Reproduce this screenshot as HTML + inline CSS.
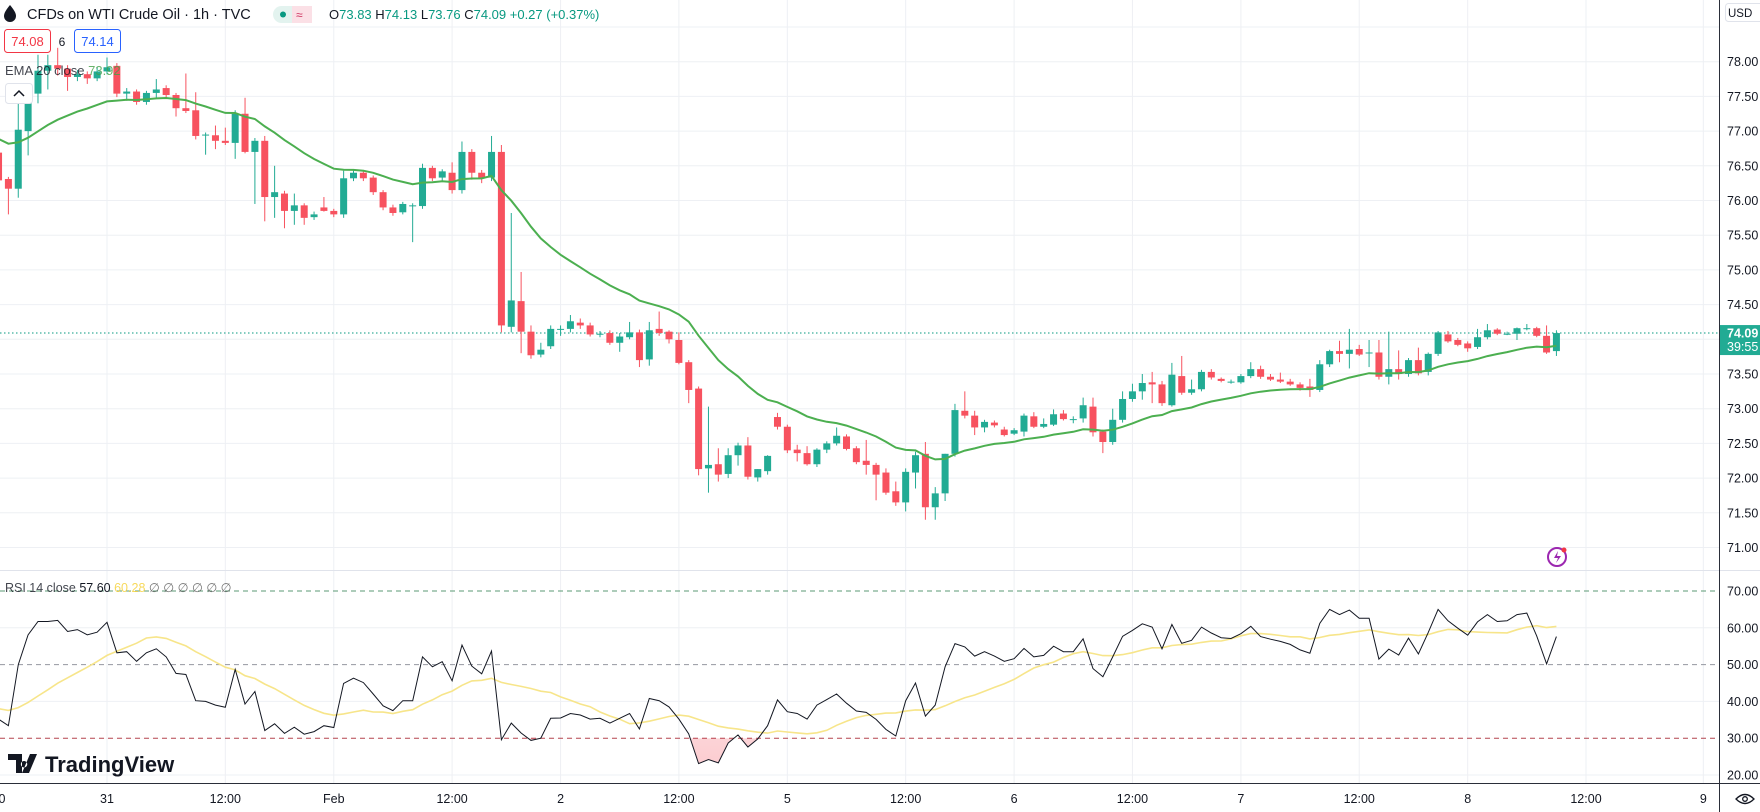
<!DOCTYPE html>
<html><head><meta charset="utf-8"><style>
html,body{margin:0;padding:0;background:#fff;width:1760px;height:812px;overflow:hidden}
svg{display:block;font-family:"Liberation Sans",sans-serif}
</style></head><body>
<svg id="chart" width="1760" height="812" viewBox="0 0 1760 812" xmlns="http://www.w3.org/2000/svg">
<g id="grid"></g>
<g id="rsiLevels"></g>
<g id="candles"></g>
<g id="rsi"></g>
<g id="axes"></g>
<!-- header -->
<g>
  <path d="M10 5 C6 10 4 13 4 16 a6 6 0 0 0 12 0 C16 13 14 10 10 5Z" fill="#131722"/>
  <text x="27" y="19" font-size="14.5" fill="#131722">CFDs on WTI Crude Oil · 1h · TVC</text>
  <rect x="273" y="6" width="39" height="17" rx="8.5" fill="#e3f3ef"/>
  <rect x="292" y="6" width="20" height="17" rx="0" fill="#fbe0e6"/>
  <circle cx="283" cy="14.5" r="3" fill="#089981"/>
  <text x="296" y="19" font-size="12" fill="#cc2f5c">≈</text>
  <text x="329" y="19" font-size="13" fill="#089981"><tspan fill="#131722">O</tspan>73.83 <tspan fill="#131722">H</tspan>74.13 <tspan fill="#131722">L</tspan>73.76 <tspan fill="#131722">C</tspan>74.09 +0.27 (+0.37%)</text>
  <rect x="4.5" y="29.5" width="46" height="23" rx="3" fill="#fff" stroke="#f23645"/>
  <text x="27.5" y="46" font-size="13" fill="#f23645" text-anchor="middle">74.08</text>
  <text x="62" y="46" font-size="12" fill="#131722" text-anchor="middle">6</text>
  <rect x="74.5" y="29.5" width="46" height="23" rx="3" fill="#fff" stroke="#2962ff"/>
  <text x="97.5" y="46" font-size="13" fill="#2962ff" text-anchor="middle">74.14</text>
  <text x="5" y="75" font-size="13" fill="#131722" fill-opacity="0.8">EMA 20 close <tspan fill="#43a047">73.92</tspan></text>
  <rect x="5.5" y="83.5" width="27" height="20" rx="3" fill="#fff" stroke="#e0e3eb"/>
  <path d="M14 96 L19 91 L24 96" fill="none" stroke="#131722" stroke-width="1.5"/>
  <text x="5" y="592" font-size="12.5" fill="#131722" fill-opacity="0.8">RSI 14 close <tspan fill="#131722" fill-opacity="1">57.60</tspan> <tspan fill="#f5d033">60.28</tspan> <tspan fill="#555">∅ ∅ ∅ ∅ ∅ ∅</tspan></text>
  <g>
    <path d="M8 754 h14 v19 h-6 v-13 h-8z M24 761 a3.2 3.2 0 1 0 0.1 0z M30 754 h7 l-8 19 h-7z" fill="#131722"/>
    <text x="45" y="772" font-size="22" font-weight="bold" fill="#131722">TradingView</text>
  </g>
  <rect x="1725.5" y="3.5" width="40" height="18" rx="3" fill="#fff" stroke="#e0e3eb"/>
  <text x="1728" y="17" font-size="11.5" fill="#131722">USD</text>
  <g>
    <circle cx="1557" cy="557" r="9" fill="none" stroke="#9c27b0" stroke-width="2"/>
    <path d="M1558 551 l-4 7 h4 l-2 5 l5 -7 h-4z" fill="#9c27b0"/>
    <circle cx="1564" cy="550" r="2.5" fill="#f23645"/>
  </g>
  <g>
    <path d="M1736 799 q9 -9 18 0 q-9 9 -18 0z" fill="none" stroke="#131722" stroke-width="1.3"/>
    <circle cx="1745" cy="799" r="2.3" fill="none" stroke="#131722" stroke-width="1.3"/>
  </g>
</g>
</svg>
<script>
const firstIndex = -11;
const opens = [76.69,76.31,76.17,77.00,77.54,77.87,77.95,77.90,77.78,77.82,77.76,
77.86,77.94,77.54,77.57,77.42,77.55,77.62,77.52,77.33,77.30,
76.94,76.94,76.86,76.83,77.25,76.70,76.86,76.05,76.10,75.85,
75.93,75.76,75.90,75.85,75.80,76.32,76.40,76.33,76.12,75.90,
75.83,75.92,75.92,76.47,76.33,76.40,76.15,76.70,76.40,76.33,
76.70,74.18,74.55,74.11,73.78,73.90,74.15,74.15,74.24,74.20,
74.08,74.09,73.95,74.03,74.10,73.71,74.15,74.11,73.99,73.67,
73.29,72.14,72.20,72.06,72.33,72.47,72.01,72.10,72.88,72.74,
72.41,72.36,72.20,72.41,72.50,72.60,72.43,72.25,72.19,72.08,
71.81,71.65,72.08,72.35,71.58,71.78,72.35,72.97,72.90,72.73,
72.80,72.70,72.64,72.67,72.89,72.74,72.77,72.93,72.85,72.86,
73.03,72.67,72.52,72.84,73.14,73.25,73.38,73.35,73.05,73.47,
73.23,73.28,73.53,73.43,73.39,73.38,73.47,73.57,73.46,73.42,
73.39,73.35,73.32,73.27,73.64,73.83,73.79,73.86,73.81,73.81,
73.46,73.57,73.50,73.70,73.53,73.79,74.07,73.99,73.94,73.89,
74.03,74.14,74.08,74.08,74.16,74.16,74.05,73.83];
const highs = [76.80,76.34,77.40,77.62,78.10,78.10,78.20,77.95,77.88,77.86,77.92,
78.06,77.98,77.62,77.60,77.58,77.75,77.66,77.55,77.83,77.56,
76.98,77.08,77.05,77.30,77.48,76.90,76.93,76.50,76.14,76.10,
75.96,75.84,76.05,75.88,76.43,76.44,76.44,76.36,76.15,75.94,
75.98,75.96,76.53,76.50,76.45,76.55,76.85,76.74,76.44,76.93,
76.80,75.82,74.97,74.20,73.95,74.20,74.20,74.35,74.30,74.24,
74.12,74.13,74.09,74.25,74.14,74.25,74.40,74.13,74.10,73.70,
73.32,73.03,72.43,72.43,72.51,72.59,72.13,72.33,72.94,72.77,
72.48,72.46,72.43,72.53,72.73,72.63,72.46,72.55,72.22,72.14,
71.95,72.14,72.38,72.52,71.87,72.35,73.07,73.25,72.97,72.84,
72.83,72.74,72.72,72.93,72.95,72.86,72.99,72.98,72.89,73.16,
73.16,72.70,73.00,73.25,73.36,73.50,73.53,73.40,73.66,73.76,
73.42,73.56,73.57,73.45,73.42,73.50,73.67,73.62,73.50,73.52,
73.43,73.38,73.43,73.70,73.85,73.98,74.15,73.92,73.99,73.99,
74.11,73.84,73.73,73.88,73.81,74.12,74.12,74.02,73.97,74.15,
74.22,74.16,74.11,74.17,74.22,74.18,74.20,74.13];
const lows = [76.25,75.80,76.04,76.65,77.40,77.60,77.80,77.58,77.72,77.68,77.72,
77.82,77.49,77.45,77.38,77.38,77.47,77.48,77.21,77.26,76.88,
76.66,76.74,76.80,76.60,76.68,75.95,75.70,75.75,75.60,75.65,
75.65,75.72,75.84,75.76,75.75,76.28,76.28,76.08,75.86,75.78,
75.80,75.40,75.88,76.28,76.28,76.10,76.10,76.30,76.25,76.28,
74.10,74.10,73.80,73.72,73.74,73.86,74.05,74.10,74.15,74.04,
74.03,73.92,73.82,74.00,73.60,73.62,74.05,73.94,73.64,73.08,
72.04,71.79,71.95,72.00,72.18,71.98,71.95,72.05,72.70,72.36,
72.24,72.18,72.16,72.36,72.47,72.40,72.20,72.05,71.68,71.76,
71.60,71.52,71.85,71.40,71.40,71.67,72.31,72.86,72.62,72.66,
72.73,72.60,72.62,72.60,72.72,72.72,72.75,72.83,72.79,72.80,
72.60,72.36,72.48,72.80,73.10,73.13,73.08,73.04,73.03,73.20,
73.20,73.25,73.42,73.38,73.36,73.36,73.44,73.43,73.40,73.37,
73.33,73.26,73.17,73.24,73.60,73.67,73.58,73.76,73.60,73.42,
73.35,73.42,73.46,73.48,73.48,73.76,73.95,73.90,73.82,73.86,
74.00,74.06,74.06,73.99,74.13,74.03,73.79,73.76];
const closes = [76.29,76.17,77.02,77.54,77.87,77.95,77.90,77.78,77.82,77.76,77.86,
77.92,77.54,77.57,77.42,77.55,77.60,77.52,77.33,77.29,76.93,
76.95,76.86,76.83,77.25,76.70,76.86,76.05,76.12,75.85,75.93,
75.75,75.80,75.85,75.80,76.32,76.40,76.32,76.12,75.90,75.82,
75.95,75.93,76.47,76.32,76.42,76.15,76.70,76.40,76.33,76.70,
74.20,74.56,74.11,73.77,73.85,74.15,74.15,74.26,74.20,74.07,
74.08,73.95,74.04,74.10,73.70,74.13,74.09,74.00,73.66,73.27,
72.13,72.19,72.05,72.33,72.47,72.02,72.13,72.32,72.74,72.40,
72.36,72.20,72.41,72.50,72.61,72.42,72.23,72.19,72.05,71.79,
71.65,72.09,72.33,71.58,71.78,72.35,72.98,72.90,72.73,72.81,
72.76,72.62,72.69,72.90,72.74,72.78,72.92,72.85,72.85,73.05,
72.66,72.52,72.84,73.14,73.25,73.37,73.35,73.08,73.49,73.23,
73.28,73.53,73.45,73.40,73.39,73.47,73.57,73.46,73.42,73.39,
73.35,73.30,73.27,73.64,73.83,73.79,73.85,73.78,73.81,73.46,
73.57,73.50,73.70,73.51,73.79,74.10,73.97,73.92,73.87,74.03,
74.13,74.08,74.08,74.16,74.16,74.05,73.81,74.09];
const rsiWarmup = [40.0,39.0,38.5,37.5,38.0,37.0,38.5,39.0,38.0,37.5,38.0,37.5,38.5];
const rsiValues = [35.2,33.4,50.0,58.1,61.7,61.7,62.0,59.0,59.5,58.1,
58.8,61.5,53.2,53.5,50.9,53.2,54.3,52.1,47.6,47.3,
40.2,40.0,39.0,38.4,48.7,39.3,42.7,32.1,33.9,31.3,
33.0,31.1,31.8,33.4,32.9,44.9,46.3,45.1,42.0,38.8,
37.5,40.2,40.2,52.1,49.4,50.8,45.6,55.3,49.6,47.5,
53.7,29.6,34.1,31.4,29.4,30.0,35.4,35.5,36.7,36.3,
35.2,35.4,34.1,35.4,36.7,32.5,40.8,40.2,38.5,35.2,
31.2,23.1,24.2,23.3,28.7,30.9,27.6,29.8,33.4,40.4,
37.2,36.7,
35.2,39.0,40.5,42.0,39.5,37.4,37.0,35.1,32.4,30.6,
40.2,45.0,36.0,39.0,49.4,55.7,54.8,52.3,53.5,52.3,
50.9,51.6,54.4,52.1,52.5,55.0,53.5,53.5,57.0,48.9,
46.7,52.1,57.7,59.3,61.1,60.2,54.3,60.9,55.8,56.6,
60.2,58.6,57.3,57.1,58.4,60.4,57.6,56.9,56.3,55.5,
54.0,53.1,61.2,65.0,63.6,64.8,62.6,62.6,51.5,54.2,
52.6,57.2,52.9,58.7,65.0,61.9,59.9,58.0,61.6,63.6,
61.7,61.9,63.6,64.0,57.8,50.2,57.6];
const emaSeed = 76.95;
const priceTicks = [71,71.5,72,72.5,73,73.5,74,74.5,75,75.5,76,76.5,77,77.5,78,78.5];
const rsiTicks = [20,30,40,50,60,70];
const timeLabels = ['00','31','12:00','Feb','12:00','2','12:00','5','12:00','6','12:00','7','12:00','8','12:00','9'];
const timeIndex = [-11,0,12,23,35,46,58,69,81,92,104,115,127,138,150,161.9];
const lastPrice = 74.09;

const NS = 'http://www.w3.org/2000/svg';
const PLOT_R = 1719;
const xAt = i => 107 + i * 9.86;
const yP = p => 61.7 + (78 - p) * 69.4;
const yR = r => 591 + (70 - r) * 3.68;
function mk(tag, attrs, parent) {
  const e = document.createElementNS(NS, tag);
  for (const k in attrs) e.setAttribute(k, attrs[k]);
  parent.appendChild(e);
  return e;
}
const grid = document.getElementById('grid');
const axes = document.getElementById('axes');
const cg = document.getElementById('candles');
const rg = document.getElementById('rsi');
const lv = document.getElementById('rsiLevels');

priceTicks.forEach(p => {
  const l = mk('line', {x1:0, x2:PLOT_R, y1:yP(p), y2:yP(p), stroke:'#eef0f4', 'stroke-width':1}, grid);
  
  
  if (p <= 78) {
    const t = mk('text', {x:1727, y:yP(p)+4.5, 'font-size':12.5, fill:'#131722'}, axes);
    t.textContent = p.toFixed(2);
    
    
  }
});
rsiTicks.forEach(r => {
  if (r === 20 || r === 40 || r === 60) {
    const l = mk('line', {x1:0, x2:PLOT_R, y1:yR(r), y2:yR(r), stroke:'#eef0f4'}, grid);
    
    
  }
  const t = mk('text', {x:1727, y:yR(r)+4.5, 'font-size':12.5, fill:'#131722'}, axes);
  t.textContent = r.toFixed(2);
  
  
});
timeLabels.forEach((lab, k) => {
  const x = xAt(timeIndex[k]);
  const l = mk('line', {x1:x, x2:x, y1:0, y2:783, stroke:'#eef0f4'}, grid);
  
  
  const t = mk('text', {x:x, y:803, 'font-size':12.5, fill:'#131722', 'text-anchor':'middle'}, axes);
  t.textContent = lab;
  
  
});
[[70,'#5b9a74'],[50,'#9598a1'],[30,'#b2444f']].forEach(([v,c]) => {
  const l = mk('line', {x1:0, x2:PLOT_R, y1:yR(v), y2:yR(v), stroke:c, 'stroke-dasharray':'5 4'}, lv);
  
  
});
const sep = mk('line', {x1:0, x2:1760, y1:570.5, y2:570.5, stroke:'#e0e3eb'}, axes);


const pax = mk('line', {x1:PLOT_R+0.5, x2:PLOT_R+0.5, y1:0, y2:812, stroke:'#2a2e39'}, axes);


const tax = mk('line', {x1:0, x2:1760, y1:783.5, y2:783.5, stroke:'#2a2e39'}, axes);



const lp = mk('line', {x1:0, x2:PLOT_R, y1:yP(lastPrice), y2:yP(lastPrice), stroke:'#089981', 'stroke-dasharray':'1.5 2.5'}, cg);



opens.forEach((o, k) => {
  const i = firstIndex + k;
  const c = closes[k], h = highs[k], l = lows[k];
  const x = xAt(i);
  const col = c >= o ? '#22ab94' : '#f7525f';
  const g = mk('g', {}, cg);
  
  
  mk('line', {x1:x, x2:x, y1:yP(h), y2:yP(l), stroke:col, 'stroke-width':1}, g);
  const top = yP(Math.max(o, c)), bot = yP(Math.min(o, c));
  mk('rect', {x:x-3.5, y:top, width:7, height:Math.max(1, bot-top), fill:col}, g);
});
let ema = emaSeed;
const emaPts = closes.map((c, k) => {
  ema = ema + (2/21) * (c - ema);
  return xAt(firstIndex + k).toFixed(1) + ',' + yP(ema).toFixed(1);
});
const emaLine = mk('polyline', {points:emaPts.join(' '), fill:'none', stroke:'#4caf50', 'stroke-width':2}, cg);



const rsiPts = rsiValues.map((r, k) => [xAt(firstIndex + k), yR(r)]);
const defs = mk('defs', {}, rg);
const cp = mk('clipPath', {id:'below30'}, defs);
mk('rect', {x:0, y:yR(30), width:PLOT_R, height:783-yR(30)}, cp);
const grad = mk('linearGradient', {id:'osg', x1:0, y1:0, x2:0, y2:1}, defs);
mk('stop', {offset:'0', 'stop-color':'#f23645', 'stop-opacity':'0.05'}, grad);
mk('stop', {offset:'1', 'stop-color':'#f23645', 'stop-opacity':'0.25'}, grad);
const fillPts = rsiPts.map(p => p[0].toFixed(1)+','+p[1].toFixed(1));
fillPts.push(rsiPts[rsiPts.length-1][0].toFixed(1)+','+yR(30));
fillPts.unshift(rsiPts[0][0].toFixed(1)+','+yR(30));
const os = mk('polygon', {points:fillPts.join(' '), fill:'url(#osg)', 'clip-path':'url(#below30)'}, rg);


const rsiAll = rsiWarmup.concat(rsiValues);
const W = rsiWarmup.length;
const maPts = rsiValues.map((r, k) => {
  const j = k + W;
  const s = rsiAll.slice(Math.max(0, j-13), j+1);
  const m = s.reduce((a,b)=>a+b,0) / s.length;
  return xAt(firstIndex + k).toFixed(1) + ',' + yR(m).toFixed(1);
});
const ma = mk('polyline', {points:maPts.join(' '), fill:'none', stroke:'#f7e58a', 'stroke-width':1.6}, rg);


const rl = mk('polyline', {points:rsiPts.map(p=>p[0].toFixed(1)+','+p[1].toFixed(1)).join(' '), fill:'none', stroke:'#131722', 'stroke-width':1}, rg);



const pb = mk('rect', {x:PLOT_R+1, y:yP(lastPrice)-8, width:41, height:30, fill:'#22ab94'}, axes);


const pt = mk('text', {x:1727, y:yP(lastPrice)+4.5, 'font-size':12.5, fill:'#fff', 'font-weight':'bold'}, axes);
pt.textContent = lastPrice.toFixed(2);


const ct = mk('text', {x:1727, y:yP(lastPrice)+18, 'font-size':12.5, fill:'#fff'}, axes);
ct.textContent = '39:55';


</script>
</body></html>
